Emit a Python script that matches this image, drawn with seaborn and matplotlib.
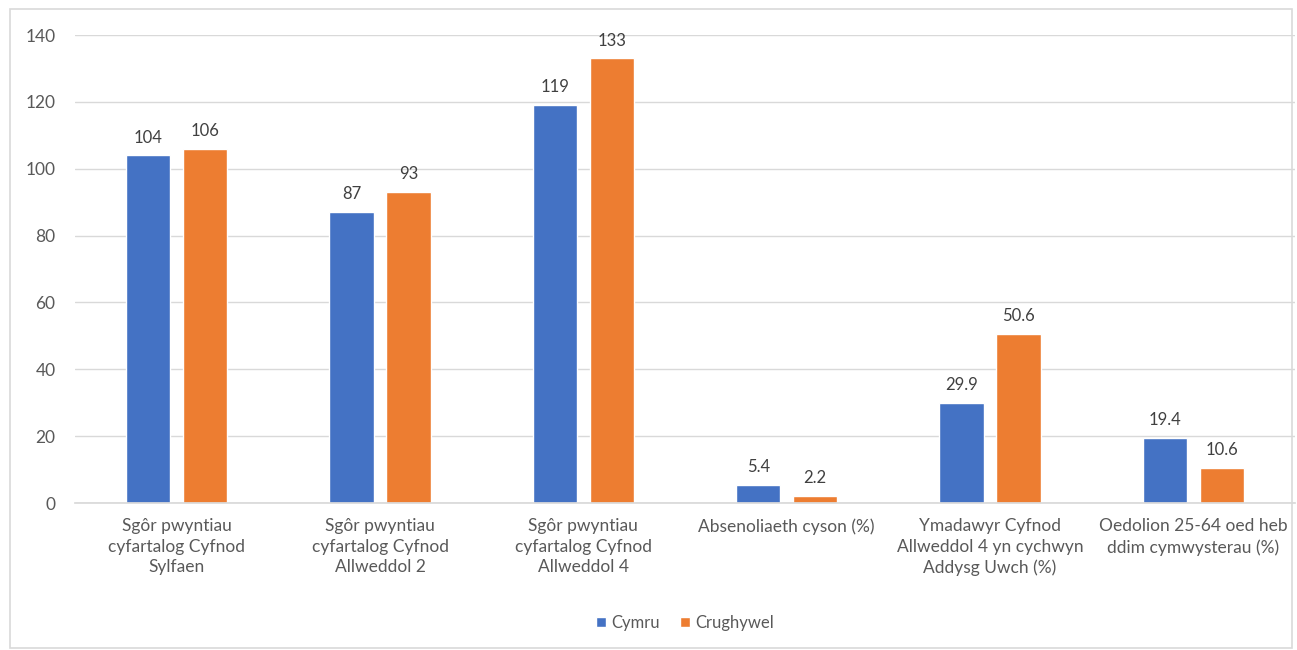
import pandas as pd
import matplotlib.pyplot as plt
import seaborn as sns
from matplotlib.patches import Rectangle

# data
categories = [
    "Sgôr pwyntiau\ncyfartalog Cyfnod\nSylfaen",
    "Sgôr pwyntiau\ncyfartalog Cyfnod\nAllweddol 2",
    "Sgôr pwyntiau\ncyfartalog Cyfnod\nAllweddol 4",
    "Absenoliaeth cyson (%)",
    "Ymadawyr Cyfnod\nAllweddol 4 yn cychwyn\nAddysg Uwch (%)",
    "Oedolion 25-64 oed heb\nddim cymwysterau (%)",
]
cymru = [104, 87, 119, 5.4, 29.9, 19.4]
crughywel = [106, 93, 133, 2.2, 50.6, 10.6]
series = ["Cymru", "Crughywel"]
labels_cymru = ["104", "87", "119", "5.4", "29.9", "19.4"]
labels_crug = ["106", "93", "133", "2.2", "50.6", "10.6"]

df = pd.DataFrame({
    "category": categories * 2,
    "value": cymru + crughywel,
    "series": [series[0]] * 6 + [series[1]] * 6,
})

sns.set_theme(style="white")
plt.rcParams["font.family"] = ["Lato", "DejaVu Sans"]

fig = plt.figure(figsize=(12.97, 6.5), dpi=100)
ax = fig.add_axes([75 / 1297, 1 - 503 / 650, (1295 - 75) / 1297, (503 - 35) / 650])

sns.barplot(data=df, x="category", y="value", hue="series",
            palette=["#4472C4", "#ED7D31"], saturation=1,
            width=0.56, gap=0.22, ax=ax, legend=True)

for cont, labs in zip(ax.containers, [labels_cymru, labels_crug]):
    ax.bar_label(cont, labels=labs, padding=7, fontsize=12, color="#404040")

ax.set_ylim(0, 140)
ax.set_yticks(range(0, 141, 20))
ax.set_xlim(-0.5, 5.5)
ax.yaxis.grid(True, color="#D9D9D9", linewidth=1)
ax.set_axisbelow(True)
for s in ["top", "right", "left"]:
    ax.spines[s].set_visible(False)
ax.spines["bottom"].set_color("#D9D9D9")
ax.set_xlabel("")
ax.set_ylabel("")
ax.tick_params(axis="both", length=0, labelsize=12.5, colors="#595959")
ax.tick_params(axis="x", pad=11)
ax.tick_params(axis="y", pad=14)
for t in ax.get_xticklabels():
    t.set_linespacing(1.35)

leg = ax.legend(loc="center", bbox_to_anchor=(0.5, (503 - 623) / 468),
                ncol=2, frameon=False, fontsize=12, handlelength=0.6,
                handleheight=0.6, handletextpad=0.3, columnspacing=1.2)
for t in leg.get_texts():
    t.set_color("#595959")

fig.patches.append(Rectangle((10 / 1297, 2 / 650), 1282 / 1297, 639 / 650,
                             transform=fig.transFigure, fill=False,
                             edgecolor="#D9D9D9", linewidth=1.2))

fig.savefig("out.png", dpi=100)
